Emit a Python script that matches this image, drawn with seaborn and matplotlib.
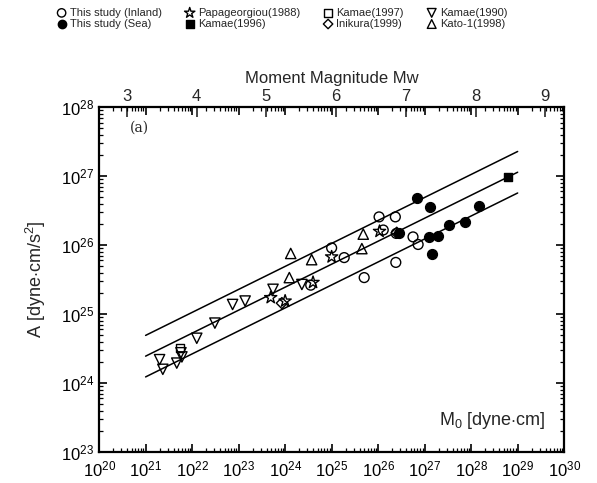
import numpy as np
import pandas as pd
import matplotlib
matplotlib.use('Agg')
import matplotlib.pyplot as plt
import matplotlib.ticker as mticker
import seaborn as sns

# log10(M0) and log10(A), one pair of lists per data set
inland_m0 = [24.55, 25.00, 25.27, 25.70, 26.02, 26.11, 26.37, 26.38, 26.75, 26.86, 26.39]
inland_a = [25.42, 25.96, 25.82, 25.53, 26.41, 26.22, 26.41, 25.75, 26.12, 26.01, 26.17]

sea_m0 = [26.45, 26.84, 27.12, 27.10, 27.29, 27.53, 27.16, 27.87, 28.17]
sea_a = [26.18, 26.68, 26.55, 26.12, 26.14, 26.29, 25.87, 26.33, 26.57]

papa_m0 = [23.69, 24.00, 24.60, 25.00, 26.03]
papa_a = [25.24, 25.19, 25.46, 25.83, 26.20]

kamae96_m0 = [28.80]
kamae96_a = [26.99]

kamae97_m0 = [21.74]
kamae97_a = [24.51]

inikura_m0 = [23.93, 26.40]
inikura_a = [25.16, 26.18]

kamae90_m0 = [21.30, 21.37, 21.67, 21.76, 21.78, 22.10, 22.49, 22.87, 23.14, 23.74, 24.36]
kamae90_a = [24.34, 24.20, 24.29, 24.44, 24.38, 24.65, 24.87, 25.14, 25.19, 25.36, 25.43]

kato_m0 = [24.09, 24.12, 24.57, 25.65, 25.68]
kato_a = [25.53, 25.88, 25.79, 25.95, 26.16]

# scaling relation A = 2.46e17 * M0^(1/3), with factor-2 bounds
coef = 2.46e17
spread = 2.0
line_m0 = [1e21, 1e29]

mw_ticks = [3, 4, 5, 6, 7, 8, 9]

# legend order follows the column-wise layout of the original
groups = [
    ('This study (Inland)', inland_m0, inland_a, 'o', False),
    ('This study (Sea)', sea_m0, sea_a, 'o', True),
    ('Papageorgiou(1988)', papa_m0, papa_a, '*', False),
    ('Kamae(1996)', kamae96_m0, kamae96_a, 's', True),
    ('Kamae(1997)', kamae97_m0, kamae97_a, 's', False),
    ('Inikura(1999)', inikura_m0, inikura_a, 'D', False),
    ('Kamae(1990)', kamae90_m0, kamae90_a, 'v', False),
    ('Kato-1(1998)', kato_m0, kato_a, '^', False),
]

sns.set_theme(style='ticks')
plt.rcParams['font.family'] = ['Liberation Sans', 'DejaVu Sans']
plt.rcParams['mathtext.fontset'] = 'custom'
plt.rcParams['mathtext.rm'] = 'Liberation Sans'
plt.rcParams['mathtext.it'] = 'Liberation Sans'

fig = plt.figure(figsize=(5.97, 4.83), dpi=100)
ax = fig.add_axes([0.166, 0.064, 0.779, 0.714])

# fit line and bounds
m0 = np.array(line_m0)
a_mid = coef * m0 ** (1 / 3)
for k in [1.0, spread, 1 / spread]:
    sns.lineplot(x=m0, y=a_mid * k, ax=ax, color='black', linewidth=1.1)

sizes = {'o': 50, '*': 85, 's': 40, 'D': 32, 'v': 55, '^': 55}
for label, xs, ys, mk, filled in groups:
    df = pd.DataFrame({'M0': 10 ** np.array(xs), 'A': 10 ** np.array(ys)})
    if filled:
        sns.scatterplot(data=df, x='M0', y='A', ax=ax, marker=mk, s=sizes[mk],
                        color='black', edgecolor='black', linewidth=1.0,
                        label=label, zorder=3)
    else:
        sns.scatterplot(data=df, x='M0', y='A', ax=ax, marker=mk, s=sizes[mk],
                        facecolor='none', edgecolor='black', linewidth=1.0,
                        label=label, zorder=3)

ax.set_xscale('log')
ax.set_yscale('log')
ax.set_xlim(1e20, 1e30)
ax.set_ylim(1e23, 1e28)

ax.xaxis.set_major_locator(mticker.LogLocator(base=10, numticks=20))
ax.xaxis.set_minor_locator(mticker.LogLocator(base=10, subs=np.arange(2, 10), numticks=100))
ax.yaxis.set_major_locator(mticker.LogLocator(base=10, numticks=20))
ax.yaxis.set_minor_locator(mticker.LogLocator(base=10, subs=np.arange(2, 10), numticks=100))
ax.xaxis.set_minor_formatter(mticker.NullFormatter())
ax.yaxis.set_minor_formatter(mticker.NullFormatter())

ax.tick_params(which='both', direction='in', top=True, right=True, labelsize=12, colors='black')
ax.tick_params(which='major', length=6, width=1.2)
ax.tick_params(which='minor', length=3, width=0.9)
ax.tick_params(axis='x', which='major', pad=5)
for sp in ax.spines.values():
    sp.set_linewidth(1.6)
    sp.set_color('black')

ax.set_xlabel('')
ax.set_ylabel(r'A [dyne$\cdot$cm/s$^2$]', fontsize=13, labelpad=9)

# top axis: moment magnitude
def to_mw(x):
    return np.log10(np.clip(x, 1e-300, None)) / 1.5 - 10.73

def from_mw(mw):
    return 10 ** (1.5 * (mw + 10.73))

sec = ax.secondary_xaxis('top', functions=(to_mw, from_mw))
sec.xaxis.set_major_locator(mticker.FixedLocator(mw_ticks))
sec.xaxis.set_minor_locator(mticker.NullLocator())
sec.xaxis.set_major_formatter(mticker.FormatStrFormatter('%d'))
sec.xaxis.set_minor_formatter(mticker.NullFormatter())
sec.tick_params(which='major', direction='in', labelsize=12, length=7, width=1.2, pad=2)
sec.set_xlabel('Moment Magnitude Mw', fontsize=12, labelpad=5)

ax.text(0.067, 0.94, '(a)', transform=ax.transAxes, fontsize=10,
        family='DejaVu Serif', va='center')
ax.text(0.96, 0.06, r'M$_0$ [dyne$\cdot$cm]', transform=ax.transAxes,
        fontsize=13, ha='right', va='bottom')

handles, labels = ax.get_legend_handles_labels()
ax.get_legend().remove()
fig.legend(handles, labels, loc='center', bbox_to_anchor=(0.472, 0.962), ncol=4,
           frameon=False, fontsize=8, handletextpad=0.25, columnspacing=2.0,
           labelspacing=0.1, handlelength=1.0, markerscale=0.85)

fig.savefig('out.png', dpi=100)
